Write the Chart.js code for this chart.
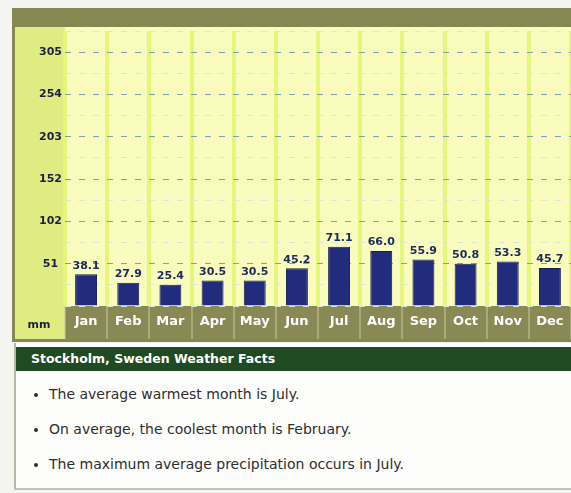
<!DOCTYPE html>
<html lang="en">
  <head>
    <meta charset="UTF-8" />
    <title>Stockholm precipitation</title>
    <script src="https://cdn.jsdelivr.net/npm/chart.js"></script>
    <style>
      body {
        margin: 0;
        width: 571px;
        height: 493px;
        overflow: hidden;
        background: #f4f4f0;
        font-family: "DejaVu Sans", Verdana, sans-serif;
        position: relative;
      }

      .chart-box {
        position: absolute;
        left: 0;
        top: 0;
        width: 571px;
        height: 345px;
      }

      .facts {
        position: absolute;
        left: 14px;
        top: 343px;
        width: 557px;
        height: 145px;
        background: #fdfdfb;
        border-left: 2px solid #b8b8a8;
        border-bottom: 2px solid #c4c4b8;
      }

      .facts h3 {
        margin: 4px 0 0 0;
        height: 24px;
        line-height: 24px;
        background: #1f4a22;
        color: #fff;
        font-size: 12.5px;
        padding-left: 15px;
      }

      .facts ul {
        margin: 12px 0 0 0;
        padding-left: 33px;
        color: #2e2e2e;
        font-size: 14px;
      }

      .facts li {
        height: 35px;
        line-height: 23px;
      }
    </style>
  </head>
  <body>
    <div class="chart-box"><canvas id="rain_chart" width="571" height="345"></canvas></div>

    <div class="facts">
      <h3>Stockholm, Sweden Weather Facts</h3>
      <ul>
        <li>The average warmest month is July.</li>
        <li>On average, the coolest month is February.</li>
        <li>The maximum average precipitation occurs in July.</li>
      </ul>
    </div>

    <script>
      // Monthly precipitation, mm
      const months = ["Jan", "Feb", "Mar", "Apr", "May", "Jun", "Jul", "Aug", "Sep", "Oct", "Nov", "Dec"];
      const rainMm = [38.1, 27.9, 25.4, 30.5, 30.5, 45.2, 71.1, 66.0, 55.9, 50.8, 53.3, 45.7];
      // axis runs in inches converted to mm (1 in = 25.4 mm)
      const axisStep = 25.4;
      const axisMax = 330.2;
      const tickLabels = ["51", "102", "152", "203", "254", "305"];

      // backgrounds: frame, left column, plot area, label band
      const panelPlugin = {
        id: "panels",
        beforeDraw(chart) {
          const c = chart.ctx;
          const a = chart.chartArea;
          c.save();
          c.fillStyle = "#f4f4f0";
          c.fillRect(0, 0, chart.width, chart.height);
          c.fillStyle = "#878752";
          c.fillRect(12, 8, chart.width - 12, 334);
          c.fillStyle = "#e0ec82";
          c.fillRect(15, 27, a.left - 15, 312);
          c.fillStyle = "#f9fcbc";
          c.fillRect(a.left, 27, a.right - a.left, a.bottom - 27);
          c.fillStyle = "#898956";
          c.fillRect(a.left, a.bottom, a.right - a.left, 33);
          c.fillStyle = "#1a2040";
          c.font = "bold 11px 'DejaVu Sans'";
          c.textAlign = "center";
          c.textBaseline = "middle";
          c.fillText("mm", 39, 325);
          c.restore();
        },
        afterDatasetsDraw(chart) {
          const c = chart.ctx;
          c.save();
          c.fillStyle = "#1c2a5c";
          c.font = "bold 11px 'DejaVu Sans'";
          c.textAlign = "center";
          c.textBaseline = "bottom";
          chart.getDatasetMeta(0).data.forEach((bar, i) => {
            c.fillText(rainMm[i].toFixed(1), bar.x, bar.y - 3);
          });
          c.restore();
        },
      };

      new Chart(document.getElementById("rain_chart").getContext("2d"), {
        type: "bar",
        data: {
          labels: months,
          datasets: [
            {
              data: rainMm,
              backgroundColor: "#222c7c",
              borderColor: "#161c54",
              borderWidth: 1,
              barPercentage: 0.52,
              categoryPercentage: 1,
            },
          ],
        },
        options: {
          responsive: false,
          animation: false,
          layout: { padding: { left: 15, top: 31, right: 0, bottom: 5 } },
          plugins: { legend: { display: false }, tooltip: { enabled: false } },
          scales: {
            x: {
              offset: true,
              grid: {
                offset: true,
                color: "#e6f67a",
                lineWidth: 4,
                tickColor: "#c9c99c",
                tickWidth: 1,
                tickLength: 33,
              },
              border: { display: false },
              ticks: {
                color: "#ffffff",
                autoSkip: false,
                maxRotation: 0,
                font: { family: "DejaVu Sans", size: 13, weight: "bold" },
                padding: -25,
              },
              afterFit(scale) {
                scale.height = 34;
              },
            },
            y: {
              min: 0,
              max: axisMax,
              grid: {
                color: (ctx) => (ctx.index % 2 === 0 && ctx.index > 0 ? "#7aa2b2" : "#d6e6d8"),
                lineWidth: 1,
                drawTicks: false,
              },
              border: { display: false, dash: [6, 8] },
              ticks: {
                stepSize: axisStep,
                autoSkip: false,
                crossAlign: "center",
                color: "#1a2040",
                font: { family: "DejaVu Sans", size: 11, weight: "bold" },
                callback: (v, i) => (i % 2 === 0 && i > 0 && i / 2 <= tickLabels.length ? tickLabels[i / 2 - 1] : ""),
              },
              afterFit(scale) {
                scale.width = 50;
              },
            },
          },
        },
        plugins: [panelPlugin],
      });
    </script>
  </body>
</html>
